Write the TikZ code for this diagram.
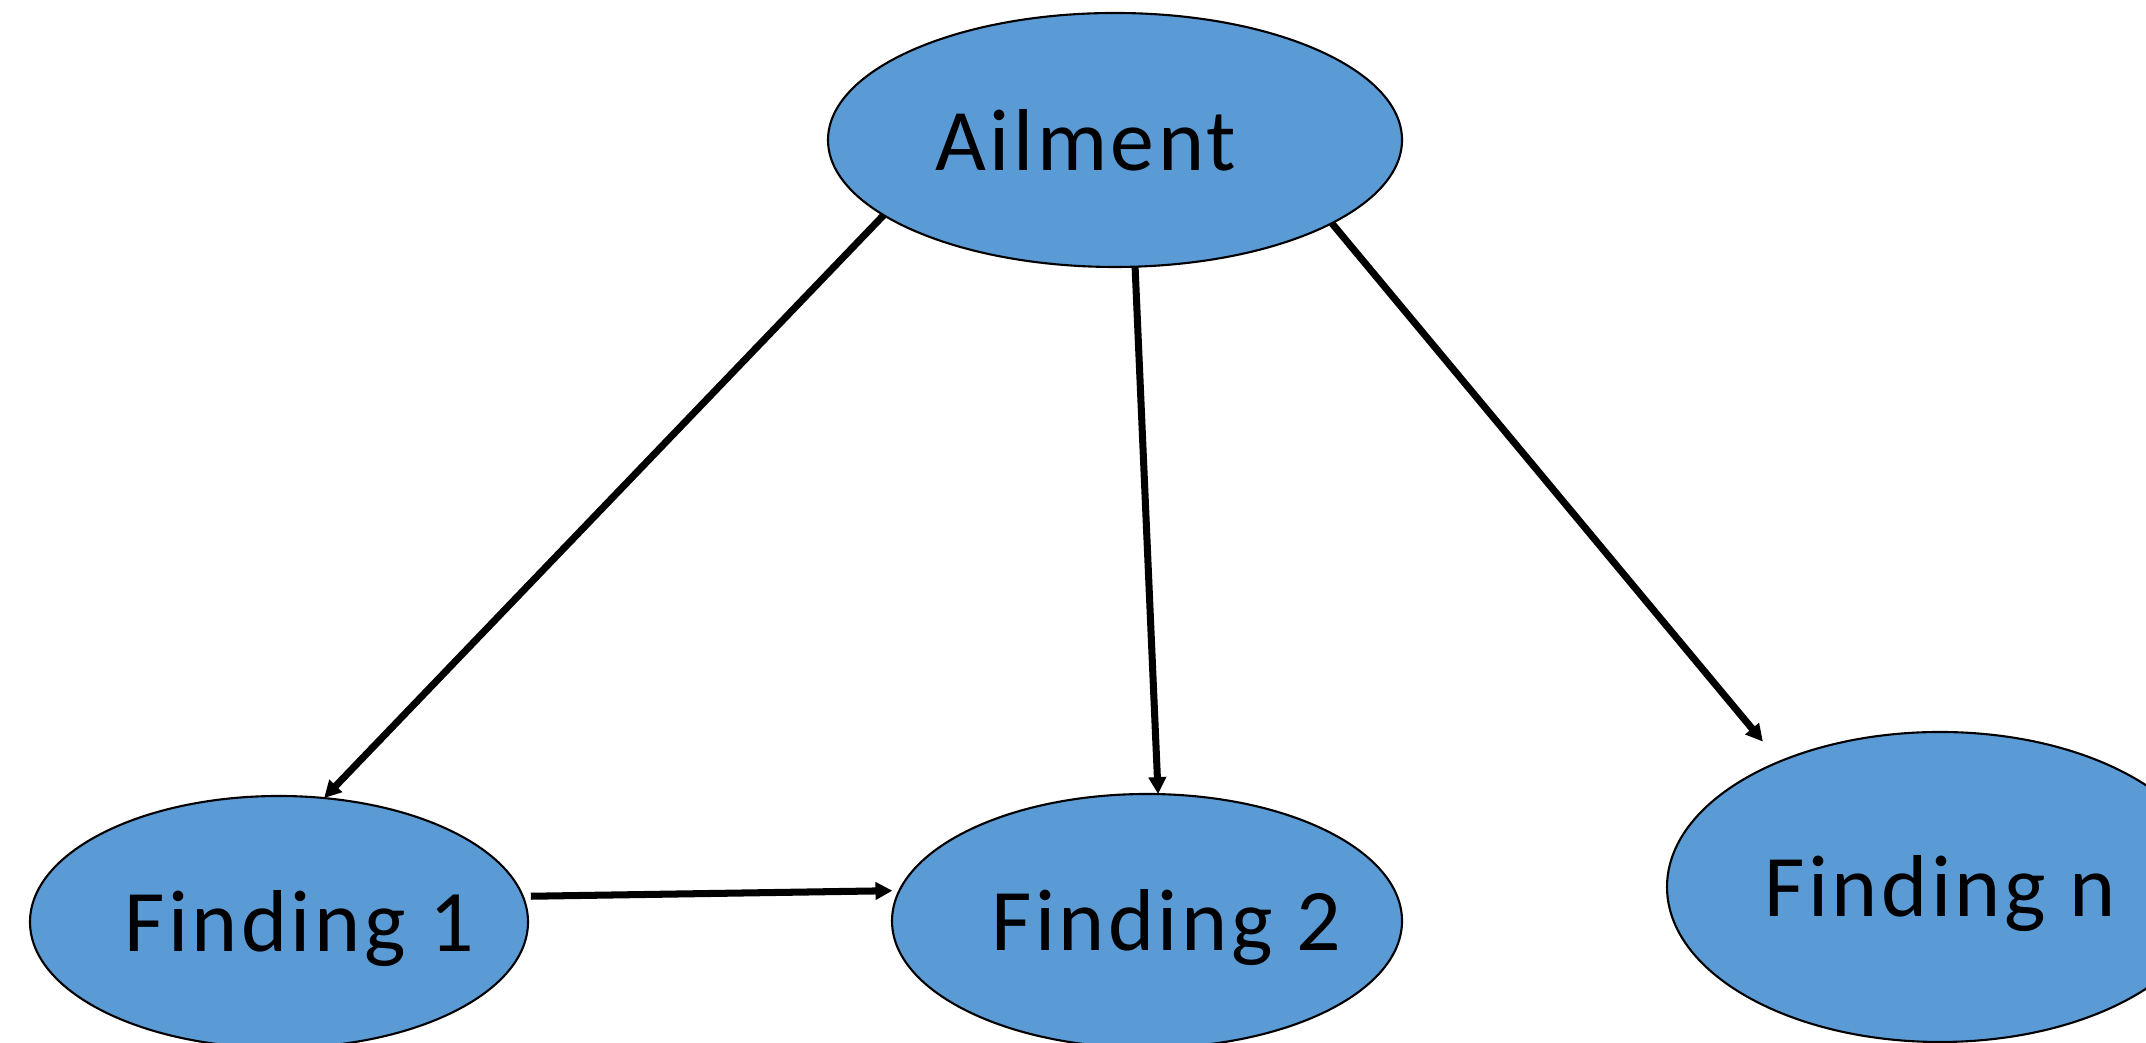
\documentclass[tikz,border=0pt]{standalone}
\usepackage{fontspec}
\setmainfont[LetterSpace=4]{Carlito}
\usetikzlibrary{arrows.meta, positioning, shapes.geometric}
\definecolor{nodeblue}{HTML}{5B9BD5}

\begin{document}
\begin{tikzpicture}[
  state/.style={ellipse, draw=black, line width=0.6pt, fill=nodeblue, inner sep=0pt, outer sep=0pt, font=\fontsize{25}{30}\selectfont},
  finding/.style={state, text height=0.8cm, text depth=0.2cm},
  link/.style={-{Triangle[length=0.17cm, width=0.17cm]}, line width=2pt, black},
]
  \useasboundingbox (0, 0) rectangle (21.46, 10.43);

  % Ailment
  \node[state, minimum width=5.74cm, minimum height=2.54cm] (ail) at (11.15, 9.03) {\kern-0.29cm Ailment\kern0.29cm};

  % Findings
  \node[finding, minimum width=4.98cm, minimum height=2.52cm] (f1) at (2.79, 1.21) {\kern0.2cm Finding 1\kern-0.2cm};
  \node[finding, minimum width=5.10cm, minimum height=2.54cm] (f2) at (11.47, 1.22) {\kern0.19cm Finding 2\kern-0.19cm};
  \node[finding, minimum width=5.46cm, minimum height=3.10cm] (fn) at (19.40, 1.56) {Finding n};

  % Arrows
  \draw[link] (ail.198) -- (f1.70);
  \draw[link] (ail.279) -- (f2.85);
  \draw[link, shorten >=0.26cm] (ail.339) -- (fn.142);
  \draw[link, shorten <=0.08cm, shorten >=0.07cm] (f1.6) -- (f2.173);

\end{tikzpicture}
\end{document}
